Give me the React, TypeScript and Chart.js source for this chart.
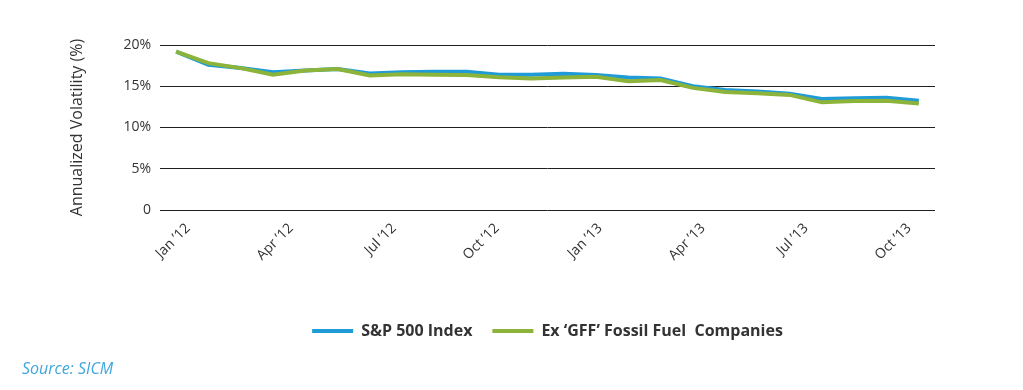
import React, { useEffect, useRef } from "react";
import { Chart, registerables } from "chart.js";

Chart.register(...registerables);

const MONTHS = [
  "Jan 2012", "Feb 2012", "Mar 2012", "Apr 2012", "May 2012", "Jun 2012",
  "Jul 2012", "Aug 2012", "Sep 2012", "Oct 2012", "Nov 2012", "Dec 2012",
  "Jan 2013", "Feb 2013", "Mar 2013", "Apr 2013", "May 2013", "Jun 2013",
  "Jul 2013", "Aug 2013", "Sep 2013", "Oct 2013", "Nov 2013", "Dec 2013",
];

const SP500 = [
  19.2, 17.6, 17.2, 16.7, 16.9, 17.1, 16.55, 16.7, 16.75, 16.75, 16.4, 16.4,
  16.5, 16.35, 16.05, 15.95, 15.0, 14.55, 14.35, 14.1, 13.45, 13.55, 13.6, 13.25,
];

const EX_GFF = [
  19.2, 17.8, 17.2, 16.4, 16.9, 17.1, 16.3, 16.45, 16.4, 16.35, 16.1, 15.95,
  16.05, 16.15, 15.6, 15.75, 14.8, 14.3, 14.15, 13.95, 13.05, 13.2, 13.25, 12.9,
];

const QUARTER_LABELS = [
  "Jan \u201912", "Apr \u201912", "Jul \u201912", "Oct \u201912",
  "Jan \u201913", "Apr \u201913", "Jul \u201913", "Oct \u201913",
];

const SERIES_NAMES = ["S&P 500 Index", "Ex \u2018GFF\u2019 Fossil Fuel  Companies"];

const BLUE = "#1f9bd7";
const GREEN = "#8cb43a";
const TEXT = "#333333";
const FONT = "'Open Sans', 'DejaVu Sans', sans-serif";

export default function App() {
  const ref = useRef<HTMLCanvasElement | null>(null);

  useEffect(() => {
    if (!ref.current) return;
    const chart = new Chart(ref.current, {
      type: "line",
      data: {
        labels: MONTHS,
        datasets: [
          {
            label: SERIES_NAMES[0],
            data: SP500,
            borderColor: BLUE,
            backgroundColor: BLUE,
            borderWidth: 4,
            pointRadius: 0,
            tension: 0,
            order: 2,
            xAxisID: "x",
          },
          {
            label: SERIES_NAMES[1],
            data: EX_GFF,
            borderColor: GREEN,
            backgroundColor: GREEN,
            borderWidth: 4,
            pointRadius: 0,
            tension: 0,
            order: 1,
            xAxisID: "x",
          },
        ],
      },
      options: {
        animation: false,
        responsive: false,
        devicePixelRatio: 1,
        layout: { padding: { left: 68, right: 88, top: 45, bottom: 41 } },
        scales: {
          x: {
            type: "category",
            display: false,
            offset: true,
          },
          q: {
            type: "linear",
            position: "bottom",
            min: -0.2718,
            max: 7.2524,
            grid: { display: false, drawTicks: false },
            border: { display: false },
            afterBuildTicks: (axis: any) => {
              axis.ticks = QUARTER_LABELS.map((_, i) => ({ value: i }));
            },
            afterFit: (axis: any) => {
              axis.height = 93;
            },
            ticks: {
              autoSkip: false,
              minRotation: 45,
              maxRotation: 45,
              padding: 10,
              color: TEXT,
              font: { family: FONT, size: 14 },
              callback: (v: any) => QUARTER_LABELS[Math.round(Number(v))] ?? "",
            },
          },
          y: {
            min: 0,
            max: 20,
            grid: { color: "#231f20", lineWidth: 1, drawTicks: false },
            border: { display: false },
            afterFit: (axis: any) => {
              axis.width = 92;
            },
            ticks: {
              stepSize: 5,
              padding: 9,
              color: TEXT,
              font: { family: FONT, size: 14 },
              callback: (v: any) => (Number(v) === 0 ? "0" : `${v}%`),
            },
            title: {
              display: true,
              text: "Annualized Volatility (%)",
              color: TEXT,
              font: { family: FONT, size: 16 },
              padding: 0,
            },
          },
        },
        plugins: {
          tooltip: { enabled: false },
          legend: {
            position: "bottom",
            fullSize: false,
            labels: {
              boxWidth: 41,
              boxHeight: 4,
              padding: 20,
              color: TEXT,
              font: { family: FONT, size: 16, weight: "bold" },
              sort: (a: any, b: any) => a.datasetIndex - b.datasetIndex,
              generateLabels: (c: any) => {
                const items = Chart.defaults.plugins.legend.labels.generateLabels(c);
                return items.map((it: any) => ({ ...it, lineWidth: 0 }));
              },
            },
          },
        },
      },
    });
    return () => chart.destroy();
  }, []);

  return (
    <div style={{ position: "fixed", left: 0, top: 0, width: 1023, height: 390, background: "#fff" }}>
      <canvas ref={ref} width={1023} height={390} style={{ display: "block" }} />
      <div
        style={{
          position: "absolute",
          left: 22,
          top: 357,
          fontFamily: FONT,
          fontStyle: "italic",
          fontSize: 16,
          color: "#3fa6de",
          whiteSpace: "nowrap",
        }}
      >
        Source: SICM
      </div>
    </div>
  );
}
